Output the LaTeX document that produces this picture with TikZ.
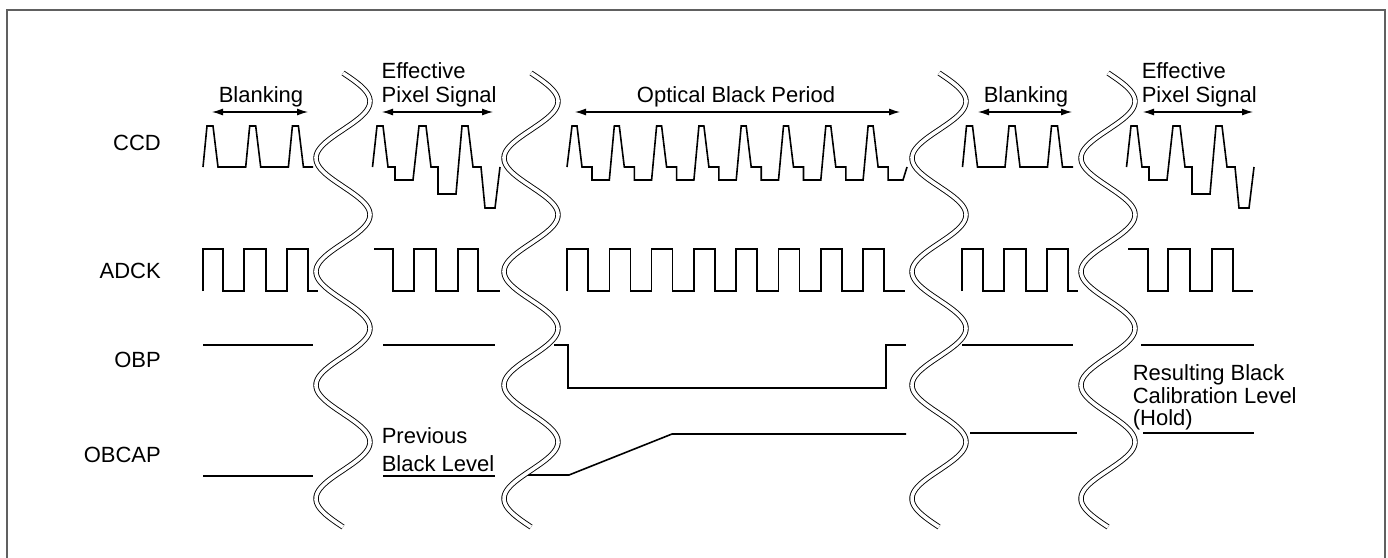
\documentclass[tikz,border=0pt]{standalone}
\usepackage{fontspec}
\setmainfont{Liberation Sans}
\usetikzlibrary{arrows.meta}
\begin{document}
\begin{tikzpicture}[x=1pt,y=-1pt,
  sig/.style={line width=1.6pt, line join=miter},
  brk/.style={double=white, double distance=3.6pt, line width=0.9pt},
  lbl/.style={font=\fontsize{22}{26}\selectfont, inner sep=0pt},
  span/.style={line width=1.1pt, {Latex[length=11pt,width=7pt]}-{Latex[length=11pt,width=7pt]}}]
\useasboundingbox (0,0) rectangle (1388,557);
% frame
\draw[line width=2pt, gray!75!black] (7,600) -- (7,10) -- (1385,10) -- (1385,600);

% ---------- row labels
\node[lbl, anchor=base east] (ccd) at (161,150) {CCD};
\node[lbl, anchor=base east] (adck) at (161,278) {ADCK};
\node[lbl, anchor=base east] (obp) at (161,367) {OBP};
\node[lbl, anchor=base east] (obcap) at (161,462) {OBCAP};

% ---------- period labels
\node[lbl, anchor=base] (bl1) at (261,102) {Blanking};
\coordinate (bl1a) at (212,112); \coordinate (bl1b) at (308,112);
\draw[span] (bl1a) -- (bl1b);
\node[lbl, anchor=base west] (ef1a) at (381.5,78) {Effective};
\node[lbl, anchor=base west] (ef1b) at (381.5,102) {Pixel Signal};
\coordinate (ef1l) at (382,112); \coordinate (ef1r) at (493,112);
\draw[span] (ef1l) -- (ef1r);
\node[lbl, anchor=base] (obper) at (736,102) {Optical Black Period};
\coordinate (obl) at (575,112); \coordinate (obr) at (900,112);
\draw[span] (obl) -- (obr);
\node[lbl, anchor=base] (bl2) at (1026,102) {Blanking};
\coordinate (bl2a) at (978,112); \coordinate (bl2b) at (1072,112);
\draw[span] (bl2a) -- (bl2b);
\node[lbl, anchor=base west] (ef2a) at (1141.6,78) {Effective};
\node[lbl, anchor=base west] (ef2b) at (1141.6,102) {Pixel Signal};
\coordinate (ef2l) at (1143,112); \coordinate (ef2r) at (1253,112);
\draw[span] (ef2l) -- (ef2r);

\node[lbl, anchor=base west] (prev1) at (381.6,443) {Previous};
\node[lbl, anchor=base west] (prev2) at (381.6,471) {Black Level};
\node[lbl, anchor=base west] (res1) at (1132.6,380.5) {Resulting Black};
\node[lbl, anchor=base west] (res2) at (1132.6,403) {Calibration Level};
\node[lbl, anchor=base west] (res3) at (1132.6,425.5) {(Hold)};

% ---------- CCD
\draw[sig] (203,167) -- (207,126) -- (213,126) -- (218,167) -- (245.7,167) -- (249.7,126) -- (255.7,126) -- (260.7,167) -- (288.4,167) -- (292.4,126) -- (298.4,126) -- (303.4,167) -- (313,167);
\begin{scope}[shift={(377,0)}]
\draw[sig] (-4.5,167) -- (0,126) -- (6,126) -- (11,167) -- (18,167) -- (18,180) -- (36,180) -- (42,126) -- (49,126) -- (54,167) -- (61,167) -- (61,194) -- (79,194) -- (85,126) -- (91,126) -- (96,167) -- (104,167) -- (108,208) -- (118,208) -- (123,167);
\end{scope}
\draw[sig] (567,167) \foreach \k in {0,...,6} { -- ({572+42.3*\k},126) -- ({577+42.3*\k},126) -- ({582+42.3*\k},167) -- ({592+42.3*\k},167) -- ({592+42.3*\k},180) -- ({609.3+42.3*\k},180) }
  -- (868.1,126) -- (873.1,126) -- (878.1,167) -- (888.1,167) -- (888.1,180) -- (903,180) -- (907,167);
\draw[sig] (962.5,167) -- (966.5,126) -- (972.5,126) -- (977.5,167) -- (1005,167) -- (1009,126) -- (1015,126) -- (1020,167) -- (1047.5,167) -- (1051.5,126) -- (1057.5,126) -- (1062.5,167) -- (1073,167);
\begin{scope}[shift={(1131,0)}]
\draw[sig] (-4.5,167) -- (0,126) -- (6,126) -- (11,167) -- (18,167) -- (18,180) -- (36,180) -- (42,126) -- (49,126) -- (54,167) -- (61,167) -- (61,194) -- (79,194) -- (85,126) -- (91,126) -- (96,167) -- (104,167) -- (108,208) -- (118,208) -- (123,167);
\end{scope}

% ---------- ADCK
\draw[sig] (203,291) -- (203,249) -- (223,249) -- (223,291) -- (244,291) -- (244,249) -- (266,249) -- (266,291) -- (287,291) -- (287,249) -- (308,249) -- (308,291) -- (318,291);
\draw[sig] (374,249) -- (393,249) -- (393,291) -- (414,291) -- (414,249) -- (436,249) -- (436,291) -- (458,291) -- (458,249) -- (478,249) -- (478,291) -- (500,291);
\draw[sig] (567,291) \foreach \k in {0,...,7} { -- ({567+42.3*\k},249) -- ({588+42.3*\k},249) -- ({588+42.3*\k},291) -- ({609.3+42.3*\k},291) };
\draw[sig] (962,291) -- (962,249) -- (983,249) -- (983,291) -- (1004,291) -- (1004,249) -- (1026,249) -- (1026,291) -- (1047,291) -- (1047,249) -- (1068,249) -- (1068,291) -- (1078,291);
\draw[sig] (1128,249) -- (1148,249) -- (1148,291) -- (1168,291) -- (1168,249) -- (1190,249) -- (1190,291) -- (1212,291) -- (1212,249) -- (1233,249) -- (1233,291) -- (1253,291);

% ---------- OBP
\draw[sig] (203,345) -- (313,345);
\draw[sig] (383,345) -- (495,345);
\draw[sig] (554,345) -- (568,345) -- (568,388) -- (886,388) -- (886,345) -- (906,345);
\draw[sig] (962,345) -- (1073,345);
\draw[sig] (1141,345) -- (1254,345);

% ---------- OBCAP
\draw[sig] (203,476) -- (313,476);
\draw[sig] (383,476) -- (495,476);
\draw[sig] (524,475) -- (569,475) -- (672,434) -- (906,434);
\draw[sig] (970,433) -- (1077,433);
\draw[sig] (1143,433) -- (1254,433);

% ---------- break lines
\foreach \c in {343,531,939,1108} {
  \draw[brk] plot[domain=0:454, samples=200, smooth] ({\c+27*sin(3.17181*\x)}, {73+\x});
}
\end{tikzpicture}
\end{document}
